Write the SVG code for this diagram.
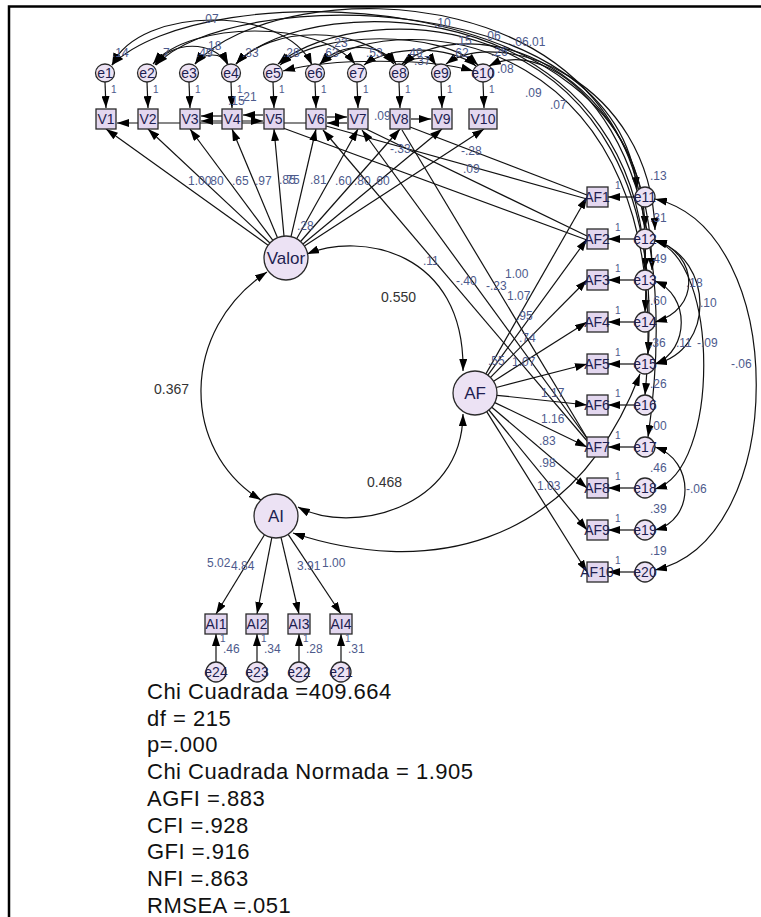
<svg xmlns="http://www.w3.org/2000/svg" width="761" height="917" viewBox="0 0 761 917">
<style>
text{font-family:"Liberation Sans",Arial,sans-serif}
.c{fill:#ece2f4;stroke:#2a2a2a;stroke-width:1.3}
.b{fill:#e3d7ef;stroke:#2a2a2a;stroke-width:1.3}
.nt{font-size:14px;fill:#1e1e50;text-anchor:middle}
.lt{font-size:17px;fill:#1e1e50;text-anchor:middle}
.lb{font-size:12px;fill:#4d5a8c}
.one{font-size:10px;fill:#4d5a8c}
.cr{font-size:14px;fill:#333}
.fit{font-size:22px;letter-spacing:0.5px;fill:#111}
.l{stroke:#111;stroke-width:1.2;fill:none}
</style>
<defs>
<marker id="a" viewBox="0 0 12 8" refX="12" refY="4" markerWidth="12" markerHeight="8" markerUnits="userSpaceOnUse" orient="auto-start-reverse"><path d="M0,0L12,4L0,8z" fill="#000"/></marker>
</defs>
<rect width="761" height="917" fill="#fff"/>
<g id="connectors">
<path class="l" marker-start="url(#a)" marker-end="url(#a)" d="M112,65C200,-25 640,-20 645,228"/>
<path class="l" marker-start="url(#a)" marker-end="url(#a)" d="M156,65C230,-15 615,-15 637,189"/>
<path class="l" marker-start="url(#a)" marker-end="url(#a)" d="M195,64C280,-30 660,-30 645,270"/>
<path class="l" marker-start="url(#a)" marker-end="url(#a)" d="M236,64C310,-15 665,-10 645,312"/>
<path class="l" marker-start="url(#a)" marker-end="url(#a)" d="M278,64C360,-5 670,0 648,354"/>
<path class="l" marker-start="url(#a)" marker-end="url(#a)" d="M320,64C400,5 680,30 645,395"/>
<path class="l" marker-start="url(#a)" marker-end="url(#a)" d="M446,64C500,25 650,80 655,230"/>
<path class="l" marker-start="url(#a)" marker-end="url(#a)" d="M489,66C560,30 690,150 648,437"/>
<path class="l" marker-start="url(#a)" marker-end="url(#a)" d="M402,64C470,10 650,60 652,270"/>
<path class="l" marker-start="url(#a)" marker-end="url(#a)" d="M112,65C140,5 285,5 312,65"/>
<path class="l" marker-start="url(#a)" marker-end="url(#a)" d="M155,65C170,40 215,40 228,65"/>
<path class="l" marker-start="url(#a)" marker-end="url(#a)" d="M195,64C203,52 222,52 228,64"/>
<path class="l" marker-start="url(#a)" marker-end="url(#a)" d="M153,64C190,20 320,20 355,64"/>
<path class="l" marker-start="url(#a)" marker-end="url(#a)" d="M320,64C340,42 380,42 396,64"/>
<path class="l" marker-start="url(#a)" marker-end="url(#a)" d="M404,65C412,56 430,56 436,65"/>
<path class="l" marker-start="url(#a)" marker-end="url(#a)" d="M280,65C320,30 440,30 478,65"/>
<path class="l" marker-start="url(#a)" marker-end="url(#a)" d="M364,65C390,45 450,45 476,66"/>
<path class="l" marker-start="url(#a)" marker-end="url(#a)" d="M236,64C270,25 360,25 394,64"/>
<path class="l" marker-start="url(#a)" marker-end="url(#a)" d="M283,71C330,58 430,58 473,71"/>
<path class="l" marker-end="url(#a)" d="M105,82L106,108"/>
<path class="l" marker-end="url(#a)" d="M147,82L148,108"/>
<path class="l" marker-end="url(#a)" d="M189,82L190,108"/>
<path class="l" marker-end="url(#a)" d="M231,82L232,108"/>
<path class="l" marker-end="url(#a)" d="M273,82L274,108"/>
<path class="l" marker-end="url(#a)" d="M315,82L316,108"/>
<path class="l" marker-end="url(#a)" d="M357,82L358,108"/>
<path class="l" marker-end="url(#a)" d="M399,82L400,108"/>
<path class="l" marker-end="url(#a)" d="M441,82L442,108"/>
<path class="l" marker-end="url(#a)" d="M483,82L484,108"/>
<path class="l" marker-end="url(#a)" d="M306,123L117,123"/>
<path class="l" marker-end="url(#a)" d="M222,116L201,116"/>
<path class="l" marker-start="url(#a)" marker-end="url(#a)" d="M201,121L263,121"/>
<path class="l" marker-end="url(#a)" d="M263,115L243,115"/>
<path class="l" marker-end="url(#a)" d="M327,117L347,117"/>
<path class="l" marker-end="url(#a)" d="M347,123L327,123"/>
<path class="l" marker-end="url(#a)" d="M411,119L431,119"/>
<path class="l" d="M326,126L587,199"/>
<path class="l" d="M283,128L587,240"/>
<path class="l" d="M410,127L587,195"/>
<path class="l" d="M366,129L587,236"/>
<path class="l" marker-start="url(#a)" d="M323,130L588,442"/>
<path class="l" marker-start="url(#a)" d="M362,130L589,441"/>
<path class="l" d="M402,130L590,443"/>
<path class="l" marker-end="url(#a)" d="M268.1,245.2L106,129"/>
<path class="l" marker-end="url(#a)" d="M269.9,243L148,129"/>
<path class="l" marker-end="url(#a)" d="M272.9,240.4L190,129"/>
<path class="l" marker-end="url(#a)" d="M277.5,237.7L232,129"/>
<path class="l" marker-end="url(#a)" d="M284,236.1L274,129"/>
<path class="l" marker-end="url(#a)" d="M291,236.6L316,129"/>
<path class="l" marker-end="url(#a)" d="M296.7,238.8L358,129"/>
<path class="l" marker-end="url(#a)" d="M300.6,241.5L400,129"/>
<path class="l" marker-end="url(#a)" d="M303,244L442,129"/>
<path class="l" marker-end="url(#a)" d="M304.4,246L484,129"/>
<path class="l" marker-start="url(#a)" marker-end="url(#a)" d="M267,272C180,330 180,450 261,500"/>
<path class="l" marker-start="url(#a)" marker-end="url(#a)" d="M307,254C360,232 465,250 463,371"/>
<path class="l" marker-start="url(#a)" marker-end="url(#a)" d="M463,414C462,510 350,535 298,507"/>
<path class="l" marker-start="url(#a)" marker-end="url(#a)" d="M293,533C420,575 570,555 640,374"/>
<path class="l" marker-end="url(#a)" d="M485.9,373.9L587,197"/>
<path class="l" marker-end="url(#a)" d="M487.9,375.2L587,239"/>
<path class="l" marker-end="url(#a)" d="M490.5,377.4L587,280"/>
<path class="l" marker-end="url(#a)" d="M493.6,381.2L587,322"/>
<path class="l" marker-end="url(#a)" d="M496.3,387.5L587,364"/>
<path class="l" marker-end="url(#a)" d="M496.9,395.3L587,405"/>
<path class="l" marker-end="url(#a)" d="M494.8,402.6L587,447"/>
<path class="l" marker-end="url(#a)" d="M491.8,407.2L587,488"/>
<path class="l" marker-end="url(#a)" d="M488.9,410L587,530"/>
<path class="l" marker-end="url(#a)" d="M486.7,411.6L587,572"/>
<path class="l" marker-end="url(#a)" d="M635,197L608,197"/>
<path class="l" marker-end="url(#a)" d="M635,239L608,239"/>
<path class="l" marker-end="url(#a)" d="M635,280L608,280"/>
<path class="l" marker-end="url(#a)" d="M635,322L608,322"/>
<path class="l" marker-end="url(#a)" d="M635,364L608,364"/>
<path class="l" marker-end="url(#a)" d="M635,405L608,405"/>
<path class="l" marker-end="url(#a)" d="M635,447L608,447"/>
<path class="l" marker-end="url(#a)" d="M635,488L608,488"/>
<path class="l" marker-end="url(#a)" d="M635,530L608,530"/>
<path class="l" marker-end="url(#a)" d="M635,572L608,572"/>
<path class="l" marker-start="url(#a)" marker-end="url(#a)" d="M655,199C790,230 790,540 655,570"/>
<path class="l" marker-start="url(#a)" marker-end="url(#a)" d="M655,241C720,260 720,470 655,489"/>
<path class="l" marker-start="url(#a)" marker-end="url(#a)" d="M655,240C700,255 700,310 655,322"/>
<path class="l" marker-start="url(#a)" marker-end="url(#a)" d="M655,240C715,260 715,350 655,364"/>
<path class="l" marker-start="url(#a)" marker-end="url(#a)" d="M655,281C690,295 690,350 655,364"/>
<path class="l" marker-start="url(#a)" marker-end="url(#a)" d="M655,447C695,460 695,520 655,530"/>
<path class="l" marker-end="url(#a)" d="M264.5,534.8L216,614"/>
<path class="l" marker-end="url(#a)" d="M271.8,537.6L257,614"/>
<path class="l" marker-end="url(#a)" d="M281,537.4L299,614"/>
<path class="l" marker-end="url(#a)" d="M288.2,534.3L341,614"/>
<path class="l" marker-end="url(#a)" d="M216,662L216,634"/>
<path class="l" marker-end="url(#a)" d="M257,662L257,634"/>
<path class="l" marker-end="url(#a)" d="M299,662L299,634"/>
<path class="l" marker-end="url(#a)" d="M341,662L341,634"/>
</g>
<g id="Valor"><circle class="c" cx="286" cy="258" r="22"/><text class="lt" x="286" y="264">Valor</text></g>
<g id="AF"><circle class="c" cx="475" cy="393" r="22"/><text class="lt" x="475" y="399">AF</text></g>
<g id="AI"><circle class="c" cx="276" cy="516" r="22"/><text class="lt" x="276" y="522">AI</text></g>
<g id="e1"><ellipse class="c" cx="105" cy="73" rx="9.5" ry="9"/><text class="nt" x="105" y="78">e1</text></g>
<g id="e2"><ellipse class="c" cx="147" cy="73" rx="9.5" ry="9"/><text class="nt" x="147" y="78">e2</text></g>
<g id="e3"><ellipse class="c" cx="189" cy="73" rx="9.5" ry="9"/><text class="nt" x="189" y="78">e3</text></g>
<g id="e4"><ellipse class="c" cx="231" cy="73" rx="9.5" ry="9"/><text class="nt" x="231" y="78">e4</text></g>
<g id="e5"><ellipse class="c" cx="273" cy="73" rx="9.5" ry="9"/><text class="nt" x="273" y="78">e5</text></g>
<g id="e6"><ellipse class="c" cx="315" cy="73" rx="9.5" ry="9"/><text class="nt" x="315" y="78">e6</text></g>
<g id="e7"><ellipse class="c" cx="357" cy="73" rx="9.5" ry="9"/><text class="nt" x="357" y="78">e7</text></g>
<g id="e8"><ellipse class="c" cx="399" cy="73" rx="9.5" ry="9"/><text class="nt" x="399" y="78">e8</text></g>
<g id="e9"><ellipse class="c" cx="441" cy="73" rx="9.5" ry="9"/><text class="nt" x="441" y="78">e9</text></g>
<g id="e10"><ellipse class="c" cx="483" cy="73" rx="10" ry="9"/><text class="nt" x="483" y="78">e10</text></g>
<g id="V1"><rect class="b" x="96" y="109" width="20" height="20"/><text class="nt" x="106" y="124">V1</text></g>
<g id="V2"><rect class="b" x="138" y="109" width="20" height="20"/><text class="nt" x="148" y="124">V2</text></g>
<g id="V3"><rect class="b" x="180" y="109" width="20" height="20"/><text class="nt" x="190" y="124">V3</text></g>
<g id="V4"><rect class="b" x="222" y="109" width="20" height="20"/><text class="nt" x="232" y="124">V4</text></g>
<g id="V5"><rect class="b" x="264" y="109" width="20" height="20"/><text class="nt" x="274" y="124">V5</text></g>
<g id="V6"><rect class="b" x="306" y="109" width="20" height="20"/><text class="nt" x="316" y="124">V6</text></g>
<g id="V7"><rect class="b" x="348" y="109" width="20" height="20"/><text class="nt" x="358" y="124">V7</text></g>
<g id="V8"><rect class="b" x="390" y="109" width="20" height="20"/><text class="nt" x="400" y="124">V8</text></g>
<g id="V9"><rect class="b" x="432" y="109" width="20" height="20"/><text class="nt" x="442" y="124">V9</text></g>
<g id="V10"><rect class="b" x="469" y="109" width="28" height="20"/><text class="nt" x="483" y="124">V10</text></g>
<g id="AF1"><rect class="b" x="587" y="187" width="21" height="20"/><text class="nt" x="597" y="202">AF1</text></g>
<g id="AF2"><rect class="b" x="587" y="229" width="21" height="20"/><text class="nt" x="597" y="244">AF2</text></g>
<g id="AF3"><rect class="b" x="587" y="270" width="21" height="20"/><text class="nt" x="597" y="285">AF3</text></g>
<g id="AF4"><rect class="b" x="587" y="312" width="21" height="20"/><text class="nt" x="597" y="327">AF4</text></g>
<g id="AF5"><rect class="b" x="587" y="354" width="21" height="20"/><text class="nt" x="597" y="369">AF5</text></g>
<g id="AF6"><rect class="b" x="587" y="395" width="21" height="20"/><text class="nt" x="597" y="410">AF6</text></g>
<g id="AF7"><rect class="b" x="587" y="437" width="21" height="20"/><text class="nt" x="597" y="452">AF7</text></g>
<g id="AF8"><rect class="b" x="587" y="478" width="21" height="20"/><text class="nt" x="597" y="493">AF8</text></g>
<g id="AF9"><rect class="b" x="587" y="520" width="21" height="20"/><text class="nt" x="597" y="535">AF9</text></g>
<g id="AF10"><rect class="b" x="587" y="562" width="21" height="20"/><text class="nt" x="597" y="577">AF10</text></g>
<g id="e11"><circle class="c" cx="645" cy="197" r="10"/><text class="nt" x="645" y="202">e11</text></g>
<g id="e12"><circle class="c" cx="645" cy="239" r="10"/><text class="nt" x="645" y="244">e12</text></g>
<g id="e13"><circle class="c" cx="645" cy="280" r="10"/><text class="nt" x="645" y="285">e13</text></g>
<g id="e14"><circle class="c" cx="645" cy="322" r="10"/><text class="nt" x="645" y="327">e14</text></g>
<g id="e15"><circle class="c" cx="645" cy="364" r="10"/><text class="nt" x="645" y="369">e15</text></g>
<g id="e16"><circle class="c" cx="645" cy="405" r="10"/><text class="nt" x="645" y="410">e16</text></g>
<g id="e17"><circle class="c" cx="645" cy="447" r="10"/><text class="nt" x="645" y="452">e17</text></g>
<g id="e18"><circle class="c" cx="645" cy="488" r="10"/><text class="nt" x="645" y="493">e18</text></g>
<g id="e19"><circle class="c" cx="645" cy="530" r="10"/><text class="nt" x="645" y="535">e19</text></g>
<g id="e20"><circle class="c" cx="645" cy="572" r="10"/><text class="nt" x="645" y="577">e20</text></g>
<g id="AI1"><rect class="b" x="205" y="614" width="22" height="20"/><text class="nt" x="216" y="629">AI1</text></g>
<g id="AI2"><rect class="b" x="246" y="614" width="22" height="20"/><text class="nt" x="257" y="629">AI2</text></g>
<g id="AI3"><rect class="b" x="288" y="614" width="22" height="20"/><text class="nt" x="299" y="629">AI3</text></g>
<g id="AI4"><rect class="b" x="330" y="614" width="22" height="20"/><text class="nt" x="341" y="629">AI4</text></g>
<g id="e24"><circle class="c" cx="216" cy="672" r="10"/><text class="nt" x="216" y="677">e24</text></g>
<g id="e23"><circle class="c" cx="257" cy="672" r="10"/><text class="nt" x="257" y="677">e23</text></g>
<g id="e22"><circle class="c" cx="299" cy="672" r="10"/><text class="nt" x="299" y="677">e22</text></g>
<g id="e21"><circle class="c" cx="341" cy="672" r="10"/><text class="nt" x="341" y="677">e21</text></g>
<g id="labels">
<text class="lb" x="112" y="57">.14</text><text class="lb" x="163" y="57">7</text>
<text class="lb" x="202" y="23">.07</text>
<text class="lb" x="196" y="57">.49</text><text class="lb" x="208" y="50">18</text>
<text class="lb" x="242" y="57">.33</text><text class="lb" x="283" y="57">.28</text>
<text class="lb" x="331" y="47">.23</text><text class="lb" x="322" y="57">.63</text>
<text class="lb" x="366" y="57">.53</text><text class="lb" x="406" y="57">.49</text>
<text class="lb" x="414" y="65">.37</text><text class="lb" x="452" y="57">.62</text>
<text class="lb" x="434" y="27">.10</text><text class="lb" x="455" y="45">.15</text>
<text class="lb" x="484" y="40">.06</text><text class="lb" x="491" y="56">.26</text>
<text class="lb" x="512" y="46">.06.01</text><text class="lb" x="497" y="73">.08</text>
<text class="lb" x="525" y="97">.09</text><text class="lb" x="550" y="109">.07</text>
<text class="one" x="111" y="93">1</text><text class="one" x="153" y="93">1</text><text class="one" x="195" y="93">1</text><text class="one" x="237" y="93">1</text><text class="one" x="279" y="93">1</text>
<text class="one" x="321" y="93">1</text><text class="one" x="363" y="93">1</text><text class="one" x="405" y="93">1</text><text class="one" x="447" y="93">1</text><text class="one" x="489" y="93">1</text>
<text class="lb" x="228" y="105">.15</text><text class="lb" x="240" y="101">.21</text>
<text class="lb" x="374" y="120">.09</text>
<text class="lb" x="188" y="185">1.00</text><text class="lb" x="207" y="185">.80</text><text class="lb" x="232" y="185">.65</text>
<text class="lb" x="255" y="185">.97</text><text class="lb" x="279" y="184">.85</text><text class="lb" x="283" y="184">.75</text>
<text class="lb" x="310" y="184">.81</text><text class="lb" x="335" y="185">.60</text><text class="lb" x="354" y="185">.80</text><text class="lb" x="373" y="185">.60</text>
<text class="lb" x="297" y="230">.28</text>
<text class="lb" x="390" y="153">-.33</text><text class="lb" x="461" y="155">-.28</text><text class="lb" x="463" y="173">.09</text>
<text class="lb" x="423" y="265">.11</text><text class="lb" x="456" y="285">-.40</text><text class="lb" x="486" y="290">-.23</text>
<text class="lb" x="505" y="278">1.00</text><text class="lb" x="507" y="300">1.07</text><text class="lb" x="516" y="320">.95</text>
<text class="lb" x="519" y="342">.74</text><text class="lb" x="488" y="365">.55</text><text class="lb" x="512" y="366">1.07</text>
<text class="lb" x="541" y="397">1.17</text><text class="lb" x="541" y="423">1.16</text><text class="lb" x="539" y="445">.83</text>
<text class="lb" x="539" y="467">.98</text><text class="lb" x="537" y="490">1.03</text>
<text class="one" x="615" y="189">1</text><text class="one" x="615" y="231">1</text><text class="one" x="615" y="272">1</text><text class="one" x="615" y="314">1</text><text class="one" x="615" y="356">1</text>
<text class="one" x="615" y="397">1</text><text class="one" x="615" y="439">1</text><text class="one" x="615" y="480">1</text><text class="one" x="615" y="522">1</text><text class="one" x="615" y="564">1</text>
<text class="lb" x="650" y="180">.13</text><text class="lb" x="650" y="222">.31</text><text class="lb" x="650" y="263">.49</text>
<text class="lb" x="650" y="305">.60</text><text class="lb" x="649" y="347">.36</text><text class="lb" x="650" y="388">.26</text>
<text class="lb" x="650" y="430">.00</text><text class="lb" x="650" y="472">.46</text><text class="lb" x="650" y="513">.39</text>
<text class="lb" x="650" y="555">.19</text>
<text class="lb" x="686" y="287">.18</text><text class="lb" x="700" y="307">.10</text><text class="lb" x="676" y="347">.11</text>
<text class="lb" x="697" y="347">-.09</text><text class="lb" x="731" y="368">-.06</text><text class="lb" x="686" y="493">-.06</text>
<text class="lb" x="207" y="567">5.02</text><text class="lb" x="231" y="570">4.84</text><text class="lb" x="297" y="570">3.91</text><text class="lb" x="322" y="567">1.00</text>
<text class="one" x="220" y="642">1</text><text class="one" x="261" y="642">1</text><text class="one" x="303" y="642">1</text><text class="one" x="345" y="642">1</text>
<text class="lb" x="223" y="653">.46</text><text class="lb" x="264" y="653">.34</text><text class="lb" x="306" y="653">.28</text><text class="lb" x="348" y="653">.31</text>
<text class="cr" x="154" y="394">0.367</text><text class="cr" x="381" y="302">0.550</text><text class="cr" x="367" y="487">0.468</text>
</g>
<g id="fit">
<text class="fit" x="147" y="699">Chi Cuadrada =409.664</text>
<text class="fit" x="147" y="726">df = 215</text>
<text class="fit" x="147" y="752">p=.000</text>
<text class="fit" x="147" y="779">Chi Cuadrada Normada = 1.905</text>
<text class="fit" x="147" y="806">AGFI =.883</text>
<text class="fit" x="147" y="833">CFI =.928</text>
<text class="fit" x="147" y="859">GFI =.916</text>
<text class="fit" x="147" y="886">NFI =.863</text>
<text class="fit" x="147" y="913">RMSEA =.051</text>
</g>
<rect x="0" y="0" width="761" height="6" fill="#fff"/>
<path d="M9,917V6.5H761" fill="none" stroke="#000" stroke-width="2.5"/>
</svg>
